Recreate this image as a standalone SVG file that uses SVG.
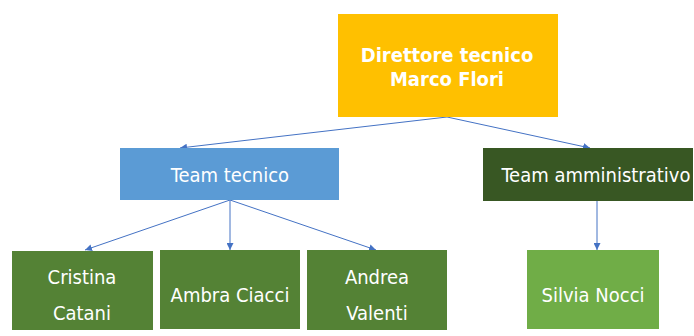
<svg xmlns="http://www.w3.org/2000/svg" width="694" height="336" viewBox="0 0 694 336">
<style>
.t{font-family:"DejaVu Sans Condensed","DejaVu Sans",sans-serif;font-size:20px;fill:#fff;text-anchor:middle}
.b{font-weight:bold}
.c{stroke:#4472C4;stroke-width:1;fill:none;marker-end:url(#ah)}
</style>
<defs>
<marker id="ah" viewBox="0 0 10 10" refX="10" refY="5" markerWidth="7" markerHeight="7" markerUnits="userSpaceOnUse" orient="auto">
<path d="M0,0 L10,5 L0,10 z" fill="#4472C4"/>
</marker>
</defs>
<rect width="694" height="336" fill="#fff"/>
<g id="connectors">
<line class="c" x1="447" y1="117" x2="180" y2="148"/>
<line class="c" x1="447" y1="117" x2="590" y2="148"/>
<line class="c" x1="230" y1="200" x2="85" y2="250"/>
<line class="c" x1="230" y1="200" x2="230" y2="250"/>
<line class="c" x1="230" y1="200" x2="376" y2="250"/>
<line class="c" x1="597" y1="201" x2="597" y2="250"/>
</g>
<g id="direttore">
<rect x="338" y="14" width="220" height="103" fill="#FFC000"/>
<text class="t b" x="447" y="62">Direttore tecnico</text>
<text class="t b" x="447" y="86">Marco Flori</text>
</g>
<g id="team-tecnico">
<rect x="120" y="148" width="219" height="52" fill="#5B9BD5"/>
<text class="t" x="230" y="182">Team tecnico</text>
</g>
<g id="team-amministrativo">
<rect x="483" y="148" width="210" height="53" fill="#385723"/>
<text class="t" x="596" y="182">Team amministrativo</text>
</g>
<g id="cristina">
<rect x="12" y="251" width="141" height="79" fill="#548235"/>
<text class="t" x="82" y="284">Cristina</text>
<text class="t" x="82" y="320">Catani</text>
</g>
<g id="ambra">
<rect x="160" y="250" width="140" height="79" fill="#548235"/>
<text class="t" x="230" y="302">Ambra Ciacci</text>
</g>
<g id="andrea">
<rect x="307" y="250" width="140" height="80" fill="#548235"/>
<text class="t" x="377" y="284">Andrea</text>
<text class="t" x="377" y="320">Valenti</text>
</g>
<g id="silvia">
<rect x="527" y="250" width="132" height="79" fill="#70AD47"/>
<text class="t" x="593" y="302">Silvia Nocci</text>
</g>
</svg>
